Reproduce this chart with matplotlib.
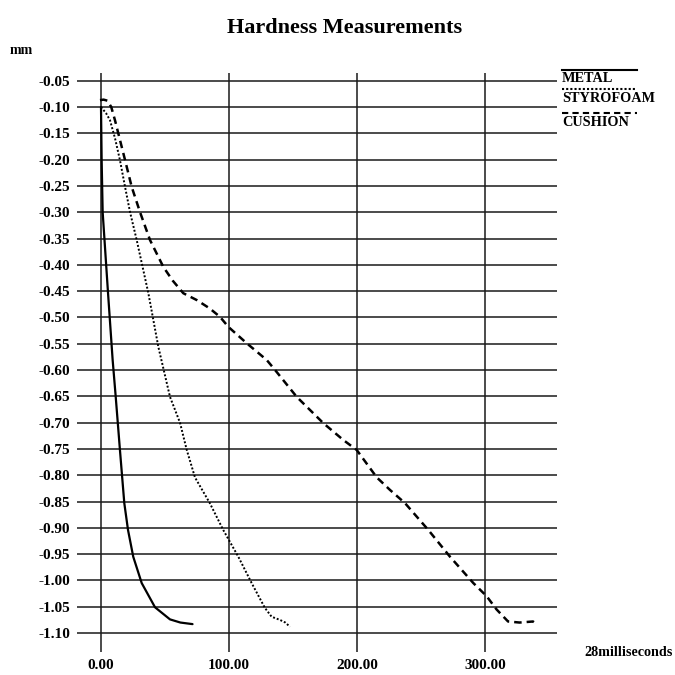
import numpy as np
import matplotlib
matplotlib.use("Agg")
import matplotlib.pyplot as plt
from matplotlib.lines import Line2D

plt.rcParams['font.family'] = ['Liberation Serif', 'DejaVu Serif']

# valeurs (temps, enfoncement en mm)
metal_t = [0, 0.5, 1.3, 5.5, 9.1, 11.5, 14.8, 18.2, 21.1, 25.2, 31.8, 42.2, 53.9, 62.0, 71.5]
metal_y = [-0.10, -0.20, -0.30, -0.454, -0.581, -0.651, -0.752, -0.853, -0.904, -0.955,
           -1.005, -1.051, -1.074, -1.080, -1.083]

styro_t = [0, 4, 7, 11, 14.8, 18.8, 22.7, 27.9, 37.0, 44.8, 53.9, 61.7, 67.0, 73.4, 85.0,
           95.5, 107.3, 117.7, 128.0, 133.3, 139.8, 144.0, 147.6]
styro_y = [-0.10, -0.112, -0.125, -0.16, -0.201, -0.252, -0.30, -0.353, -0.454, -0.556,
           -0.651, -0.700, -0.752, -0.804, -0.853, -0.904, -0.955, -1.005, -1.052, -1.069,
           -1.075, -1.080, -1.088]

cush_t = [-0.8, 2, 5, 8, 10.9, 18.8, 24.0, 30.5, 38.3, 48.7, 56.0, 64.3, 74.8, 85.0, 93.0,
          99.5, 113.8, 129.5, 136.0, 152.9, 173.7, 189.3, 199.8, 215.4, 225.8, 237.5,
          255.7, 272.7, 290.9, 301.3, 309.0, 318.0, 327.0, 337.5, 340.4]
cush_y = [-0.087, -0.086, -0.088, -0.10, -0.125, -0.201, -0.252, -0.30, -0.353, -0.404,
          -0.43, -0.454, -0.467, -0.483, -0.499, -0.518, -0.549, -0.581, -0.60, -0.651,
          -0.701, -0.733, -0.752, -0.804, -0.828, -0.853, -0.904, -0.955, -1.005, -1.03,
          -1.055, -1.078, -1.080, -1.078, -1.083]

xticks = [0, 100, 200, 300]
yticks = np.round(np.arange(-0.05, -1.1001, -0.05), 2)

fig = plt.figure(figsize=(6.75, 6.75), dpi=100)
ax = fig.add_axes([77/675, 1 - 652/675, 480/675, 579/675])

ax.plot(metal_t, metal_y, color='black', lw=1.6, solid_capstyle='round')
ax.plot(styro_t, styro_y, color='black', lw=1.4, linestyle=(0, (1, 1)))
ax.plot(cush_t, cush_y, color='black', lw=1.8, linestyle=(0, (3, 2)))

ax.set_xlim(-18.75, 356.25)
ax.set_ylim(-1.136, -0.0354)
ax.set_xticks(xticks)
ax.set_xticklabels([f'{v:.2f}' for v in xticks])
ax.set_yticks(yticks)
ax.set_yticklabels([f'{v:.2f}' for v in yticks])
ax.grid(True, color='#1a1a1a', lw=1.1)
ax.set_axisbelow(True)
for s in ax.spines.values():
    s.set_visible(False)
ax.tick_params(length=0, labelsize=11)
ax.tick_params(axis='y', pad=5)
ax.tick_params(axis='x', pad=5)
for lab in ax.get_xticklabels() + ax.get_yticklabels():
    lab.set_fontweight('bold')

fig.text(345/675, 1 - 28/675, 'Hardness Measurements', ha='center', va='center',
         fontsize=16, fontweight='bold')
fig.text(10/675, 1 - 51/675, 'mm', ha='left', va='center', fontsize=10, fontweight='bold')
fig.text(584/675, 1 - 652/675, '28milliseconds', ha='left', va='center', fontsize=10.2,
         fontweight='bold')

# legende a droite
noms = ['METAL', 'STYROFOAM', 'CUSHION']
styles = ['-', (0, (1, 1)), (0, (3, 2))]
ligne_y = [70, 89, 113]
texte_y = [78, 99, 122]
for nom, st, ly, ty in zip(noms, styles, ligne_y, texte_y):
    fig.add_artist(Line2D([562/675, 637/675], [1 - ly/675, 1 - ly/675],
                          transform=fig.transFigure, color='black', lw=1.5, linestyle=st))
    fig.text(562/675, 1 - ty/675, nom, ha='left', va='center', fontsize=10.3, fontweight='bold')

fig.savefig('out.png', dpi=100)
